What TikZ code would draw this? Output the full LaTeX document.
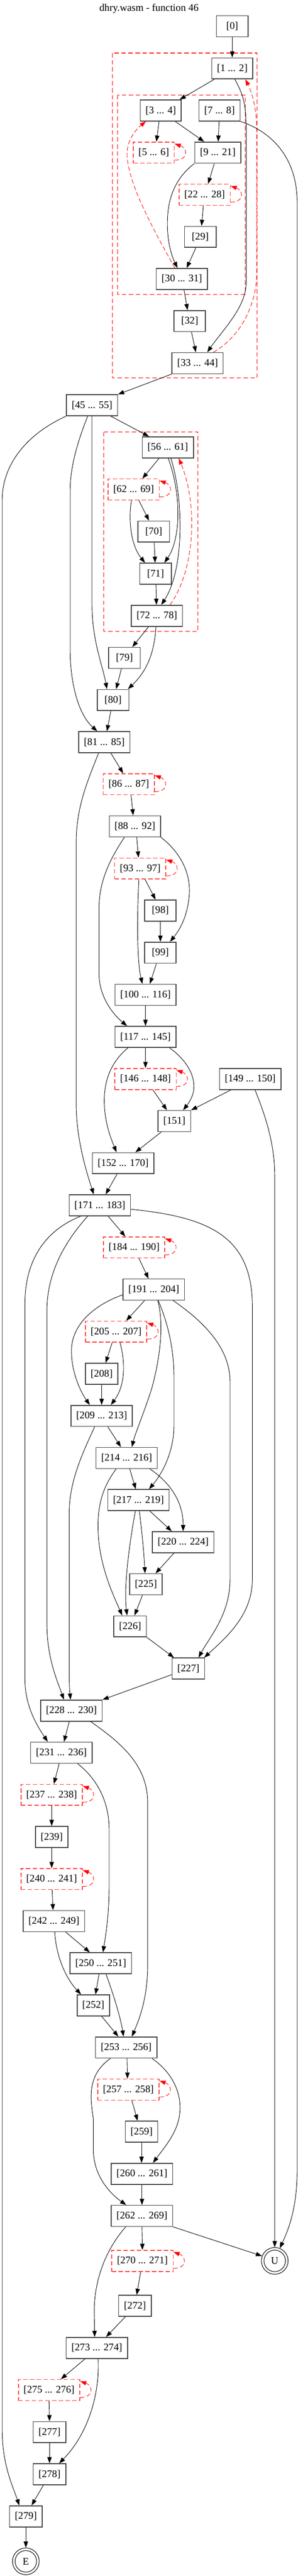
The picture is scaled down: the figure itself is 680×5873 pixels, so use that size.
\documentclass[tikz,border=0pt]{standalone}
\usepackage{fontspec}
\setmainfont{Liberation Serif}
\usetikzlibrary{arrows.meta}
\definecolor{boxgray}{RGB}{64,64,64}
\definecolor{lred}{RGB}{255,64,64}
\tikzset{
  blk/.style={rectangle, draw=boxgray, line width=1.4pt, minimum width=54pt, minimum height=36pt, inner xsep=9pt, inner ysep=0pt, font=\fontsize{17.4}{20}\selectfont},
  lpb/.style={blk, draw=lred, line width=1.3pt, dash pattern=on 7.5pt off 4pt},
  term/.style={circle, draw=black, line width=0.9pt, minimum size=45.75pt, inner sep=0pt, font=\fontsize{17.4}{20}\selectfont},
  clus/.style={draw=red, line width=1.05pt, dash pattern=on 7.5pt off 4.5pt},
  ed/.style={draw=black, line width=0.8pt, -{Triangle[length=10.5pt,width=7.5pt]}},
  be/.style={draw=red, line width=0.8pt, dash pattern=on 7.5pt off 4pt, -{Triangle[length=10.5pt,width=7.5pt]}},
}
\begin{document}
\begin{tikzpicture}[x=0.75pt,y=-0.75pt]
\fill[white] (0,0) rectangle (680,5873);
\path[use as bounding box] (0,0) rectangle (680,5873);
\node[font=\fontsize{17.4}{20}\selectfont] (title) at (340,20) {dhry.wasm - function 46};
% clusters
\draw[clus] (257,121) rectangle (587,862);
\draw[clus] (268,217) rectangle (560,671);
\draw[clus] (237,985) rectangle (452,1439);
% nodes
\node[blk] (n0) at (530,60) {[0]};
\node[blk] (n1) at (530,156) {[1 ... 2]};
\node[blk] (n3) at (367,252) {[3 ... 4]};
\node[blk] (n7) at (501,252) {[7 ... 8]};
\node[lpb] (n5) at (351,348) {[5 ... 6]};
\node[blk] (n9) at (497,348) {[9 ... 21]};
\node[lpb] (n22) at (467,444) {[22 ... 28]};
\node[blk] (n29) at (457,540) {[29]};
\node[blk] (n30) at (415,636) {[30 ... 31]};
\node[blk] (n32) at (433,732) {[32]};
\node[blk] (n33) at (451,828) {[33 ... 44]};
\node[blk] (n45) at (210,924) {[45 ... 55]};
\node[blk] (n56) at (383,1020) {[56 ... 61]};
\node[lpb] (n62) at (305,1116) {[62 ... 69]};
\node[blk] (n70) at (351,1212) {[70]};
\node[blk] (n71) at (355,1308) {[71]};
\node[blk] (n72) at (358,1404) {[72 ... 78]};
\node[blk] (n79) at (284,1500) {[79]};
\node[blk] (n80) at (258,1596) {[80]};
\node[blk] (n81) at (238,1692) {[81 ... 85]};
\node[lpb] (n86) at (294,1788) {[86 ... 87]};
\node[blk] (n88) at (308,1884) {[88 ... 92]};
\node[lpb] (n93) at (320,1980) {[93 ... 97]};
\node[blk] (n98) at (366,2076) {[98]};
\node[blk] (n99) at (366,2172) {[99]};
\node[blk] (n100) at (332,2268) {[100 ... 116]};
\node[blk] (n117) at (332,2364) {[117 ... 145]};
\node[lpb] (n146) at (332,2460) {[146 ... 148]};
\node[blk] (n149) at (571,2460) {[149 ... 150]};
\node[blk] (n151) at (398,2556) {[151]};
\node[blk] (n152) at (281,2652) {[152 ... 170]};
\node[blk] (n171) at (228,2748) {[171 ... 183]};
\node[lpb] (n184) at (306,2844) {[184 ... 190]};
\node[blk] (n191) at (351,2940) {[191 ... 204]};
\node[lpb] (n205) at (265,3036) {[205 ... 207]};
\node[blk] (n208) at (232,3132) {[208]};
\node[blk] (n209) at (232,3228) {[209 ... 213]};
\node[blk] (n214) at (289,3324) {[214 ... 216]};
\node[blk] (n217) at (316,3420) {[217 ... 219]};
\node[blk] (n220) at (418,3516) {[220 ... 224]};
\node[blk] (n225) at (333,3612) {[225]};
\node[blk] (n226) at (297,3708) {[226]};
\node[blk] (n227) at (430,3804) {[227]};
\node[blk] (n228) at (163,3900) {[228 ... 230]};
\node[blk] (n231) at (140,3996) {[231 ... 236]};
\node[lpb] (n237) at (118,4092) {[237 ... 238]};
\node[blk] (n239) at (118,4188) {[239]};
\node[lpb] (n240) at (118,4284) {[240 ... 241]};
\node[blk] (n242) at (123,4380) {[242 ... 249]};
\node[blk] (n250) at (230,4476) {[250 ... 251]};
\node[blk] (n252) at (213,4572) {[252]};
\node[blk] (n253) at (288,4668) {[253 ... 256]};
\node[lpb] (n257) at (293,4764) {[257 ... 258]};
\node[blk] (n259) at (323,4860) {[259]};
\node[blk] (n260) at (324,4956) {[260 ... 261]};
\node[blk] (n262) at (324,5052) {[262 ... 269]};
\node[lpb] (n270) at (325,5154.5) {[270 ... 271]};
\node[term] (U) at (627,5154.5) {U};
\draw[line width=0.9pt] (U.center) circle[radius=18.4pt];
\node[blk] (n272) at (308,5257) {[272]};
\node[blk] (n273) at (221,5353) {[273 ... 274]};
\node[lpb] (n275) at (112,5449) {[275 ... 276]};
\node[blk] (n277) at (113,5545) {[277]};
\node[blk] (n278) at (113,5641) {[278]};
\node[blk] (n279) at (59,5737) {[279]};
\node[term] (E) at (59,5839.5) {E};
\draw[line width=0.9pt] (E.center) circle[radius=18.4pt];
% self loops
\foreach \n in {n5,n22,n62,n86,n93,n146,n184,n205,n237,n240,n257,n270,n275}
  \draw[be] ([shift={(0,17)}]\n.east) .. controls ([shift={(32,17)}]\n.east) and ([shift={(30,-10)}]\n.east) .. ([shift={(0,-20)}]\n.east);
% edges
\draw[ed] (n0.south) -- (n1.north);
\draw[ed] ([shift={(-41,0)}]n1.south) -- ([shift={(43,0)}]n3.north);
\draw[ed] ([shift={(6,0)}]n1.south) .. controls (556,217) and (562,240) .. (562,300) -- (562,643) .. controls (562,700) and (510,750) .. ([shift={(22,0)}]n33.north);
\draw[be] ([shift={(36,0)}]n33.north) .. controls (545,770) and (586,700) .. (586,620) -- (586,300) .. controls (586,240) and (572,205) .. ([shift={(30,0)}]n1.south);
\draw[ed] ([shift={(-4,0)}]n3.south) -- ([shift={(6,0)}]n5.north);
\draw[ed] ([shift={(33,0)}]n3.south) -- ([shift={(-31,0)}]n9.north);
\draw[ed] ([shift={(-1,0)}]n7.south) -- ([shift={(1,0)}]n9.north);
\draw[ed] (n7.south east) .. controls (620,300) and (678,360) .. (678,460) -- (678,4950) .. controls (678,5040) and (655,5090) .. (U.68);
\draw[ed] ([shift={(-8,0)}]n9.south) -- ([shift={(8,0)}]n22.north);
\draw[ed] (n9.south west) .. controls (395,410) and (382,460) .. (382,510) .. controls (382,560) and (395,590) .. ([shift={(-10,0)}]n30.north);
\draw[be] ([shift={(-16,0)}]n30.north) .. controls (360,540) and (290,420) .. (290,350) .. controls (290,320) and (310,295) .. ([shift={(-34,0)}]n3.south);
\draw[ed] ([shift={(-3,0)}]n22.south) -- ([shift={(3,0)}]n29.north);
\draw[ed] ([shift={(-10,0)}]n29.south) -- ([shift={(11,0)}]n30.north);
\draw[ed] ([shift={(5,0)}]n30.south) -- ([shift={(-5,0)}]n32.north);
\draw[ed] ([shift={(4,0)}]n32.south) -- ([shift={(-4,0)}]n33.north);
\draw[ed] (n33.south west) -- (n45.north east);
\draw[ed] ([shift={(43,0)}]n45.south) -- ([shift={(-43,0)}]n56.north);
\draw[ed] (n45.south west) .. controls (60,990) and (5,1060) .. (5,1140) -- (5,5540) .. controls (5,5620) and (30,5670) .. ([shift={(-15,0)}]n279.north);
\draw[ed] ([shift={(-10,0)}]n45.south) .. controls (180,1000) and (160,1060) .. (160,1120) -- (160,1480) .. controls (160,1560) and (180,1630) .. ([shift={(-16,0)}]n81.north);
\draw[ed] (n45.south) -- (210,1380) .. controls (210,1460) and (235,1520) .. ([shift={(-14,0)}]n80.north);
\draw[ed] ([shift={(-20,0)}]n56.south) -- ([shift={(20,0)}]n62.north);
\draw[ed] ([shift={(1,0)}]n56.south) .. controls (415,1130) and (412,1230) .. ([shift={(20,0)}]n71.north);
\draw[ed] ([shift={(7,0)}]n56.south) .. controls (420,1140) and (420,1300) .. ([shift={(10,0)}]n72.north);
\draw[be] ([shift={(30,0)}]n72.north) .. controls (445,1300) and (452,1150) .. ([shift={(25,0)}]n56.south);
\draw[ed] ([shift={(12,0)}]n62.south) -- ([shift={(-11,0)}]n70.north);
\draw[ed] ([shift={(-5,0)}]n62.south) .. controls (292,1190) and (300,1245) .. ([shift={(-24,0)}]n71.north);
\draw[ed] ([shift={(1,0)}]n70.south) -- ([shift={(-1,0)}]n71.north);
\draw[ed] ([shift={(1,0)}]n71.south) -- ([shift={(-1,0)}]n72.north);
\draw[ed] ([shift={(-19,0)}]n72.south) -- ([shift={(18,0)}]n79.north);
\draw[ed] ([shift={(-2,0)}]n72.south) .. controls (352,1490) and (335,1530) .. ([shift={(34,0)}]n80.north);
\draw[ed] ([shift={(-7,0)}]n79.south) -- ([shift={(7,0)}]n80.north);
\draw[ed] ([shift={(-5,0)}]n80.south) -- ([shift={(6,0)}]n81.north);
\draw[ed] ([shift={(15,0)}]n81.south) -- ([shift={(-13,0)}]n86.north);
\draw[ed] ([shift={(-13,0)}]n81.south) .. controls (200,1780) and (174,1840) .. (174,1920) -- (174,2520) .. controls (174,2600) and (200,2680) .. ([shift={(-14,0)}]n171.north);
\draw[ed] ([shift={(5,0)}]n86.south) -- ([shift={(-4,0)}]n88.north);
\draw[ed] ([shift={(4,0)}]n88.south) -- ([shift={(-4,0)}]n93.north);
\draw[ed] ([shift={(-24,0)}]n88.south) .. controls (250,1960) and (226,2010) .. (226,2070) -- (226,2220) .. controls (226,2270) and (255,2310) .. ([shift={(-42,0)}]n117.north);
\draw[ed] (n88.south east) .. controls (420,1950) and (435,2000) .. (432,2040) .. controls (428,2090) and (410,2120) .. ([shift={(22,0)}]n99.north);
\draw[ed] ([shift={(11,0)}]n93.south) -- ([shift={(-11,0)}]n98.north);
\draw[ed] ([shift={(-3,0)}]n93.south) .. controls (313,2080) and (312,2190) .. ([shift={(-7,0)}]n100.north);
\draw[ed] (n98.south) -- (n99.north);
\draw[ed] ([shift={(-9,0)}]n99.south) -- ([shift={(10,0)}]n100.north);
\draw[ed] (n100.south) -- (n117.north);
\draw[ed] (n117.south) -- (n146.north);
\draw[ed] ([shift={(-40,0)}]n117.south) .. controls (255,2420) and (238,2460) .. (238,2510) .. controls (238,2560) and (255,2600) .. ([shift={(-15,0)}]n152.north);
\draw[ed] ([shift={(55,0)}]n117.south) .. controls (430,2420) and (450,2460) .. (440,2495) .. controls (435,2510) and (425,2522) .. ([shift={(20,0)}]n151.north);
\draw[ed] ([shift={(17,0)}]n146.south) -- ([shift={(-17,0)}]n151.north);
\draw[ed] ([shift={(-44,0)}]n149.south) -- (n151.north east);
\draw[ed] ([shift={(11,0)}]n149.south) .. controls (600,2530) and (627,2600) .. (627,2680) -- (U.north);
\draw[ed] ([shift={(-30,0)}]n151.south) -- ([shift={(28,0)}]n152.north);
\draw[ed] ([shift={(-14,0)}]n152.south) -- ([shift={(13,0)}]n171.north);
\draw[ed] ([shift={(19,0)}]n171.south) -- ([shift={(-20,0)}]n184.north);
\draw[ed] ([shift={(-44,0)}]n171.south) .. controls (90,2810) and (57,2890) .. (57,2970) -- (57,3830) .. controls (57,3890) and (85,3935) .. ([shift={(-31,0)}]n231.north);
\draw[ed] ([shift={(-28,0)}]n171.south) .. controls (140,2840) and (107,2910) .. (107,2990) -- (107,3700) .. controls (107,3780) and (130,3830) .. ([shift={(-17,0)}]n228.north);
\draw[ed] ([shift={(0,9)}]n171.east) .. controls (480,2775) and (576,2820) .. (576,2980) -- (576,3600) .. controls (576,3680) and (520,3730) .. ([shift={(36,0)}]n227.north);
\draw[ed] ([shift={(11,0)}]n184.south) -- ([shift={(-12,0)}]n191.north);
\draw[ed] ([shift={(0,12)}]n191.west) .. controls (215,2975) and (163,3020) .. (163,3080) .. controls (163,3130) and (185,3175) .. ([shift={(-27,0)}]n209.north);
\draw[ed] ([shift={(-21,0)}]n191.south) -- ([shift={(23,0)}]n205.north);
\draw[ed] ([shift={(9,0)}]n191.south) .. controls (375,3020) and (365,3100) .. (345,3170) .. controls (325,3230) and (308,3270) .. ([shift={(12,0)}]n214.north);
\draw[ed] ([shift={(10,0)}]n191.south) .. controls (385,3020) and (397,3080) .. (397,3140) -- (397,3250) .. controls (397,3310) and (370,3360) .. ([shift={(24,0)}]n217.north);
\draw[ed] ([shift={(44,0)}]n191.south) .. controls (460,3010) and (525,3070) .. (525,3150) -- (525,3600) .. controls (525,3680) and (480,3730) .. ([shift={(23,0)}]n227.north);
\draw[ed] ([shift={(-9,0)}]n205.south) -- ([shift={(9,0)}]n208.north);
\draw[ed] ([shift={(9,0)}]n205.south) .. controls (287,3110) and (285,3160) .. ([shift={(21,0)}]n209.north);
\draw[ed] (n208.south) -- (n209.north);
\draw[ed] ([shift={(14,0)}]n209.south) -- ([shift={(-13,0)}]n214.north);
\draw[ed] ([shift={(-16,0)}]n209.south) .. controls (185,3320) and (158,3380) .. (158,3450) -- (158,3820) .. controls (158,3850) and (160,3865) .. ([shift={(-2,0)}]n228.north);
\draw[ed] ([shift={(7,0)}]n214.south) -- ([shift={(-6,0)}]n217.north);
\draw[ed] ([shift={(53,0)}]n214.south) .. controls (395,3385) and (418,3430) .. (n220.north);
\draw[ed] ([shift={(-24,0)}]n214.south) .. controls (235,3390) and (222,3430) .. (224,3490) .. controls (226,3570) and (260,3640) .. ([shift={(-18,0)}]n226.north);
\draw[ed] ([shift={(26,0)}]n217.south) -- ([shift={(-26,0)}]n220.north);
\draw[ed] ([shift={(-7,0)}]n217.south) .. controls (295,3520) and (282,3620) .. ([shift={(-7,0)}]n226.north);
\draw[ed] ([shift={(2,0)}]n217.south) .. controls (325,3500) and (329,3550) .. ([shift={(-2,0)}]n225.north);
\draw[ed] ([shift={(-21,0)}]n220.south) -- ([shift={(22,0)}]n225.north);
\draw[ed] ([shift={(-8,0)}]n225.south) -- ([shift={(10,0)}]n226.north);
\draw[ed] (n226.south east) -- ([shift={(-33,0)}]n227.north);
\draw[ed] ([shift={(0,14)}]n227.west) -- (n228.north east);
\draw[ed] ([shift={(-5,0)}]n228.south) -- ([shift={(6,0)}]n231.north);
\draw[ed] ([shift={(44,0)}]n228.south) .. controls (270,3970) and (337,4020) .. (337,4110) -- (337,4480) .. controls (337,4560) and (315,4610) .. ([shift={(13,0)}]n253.north);
\draw[ed] ([shift={(-5,0)}]n231.south) -- ([shift={(5,0)}]n237.north);
\draw[ed] ([shift={(37,0)}]n231.south) .. controls (215,4050) and (249,4100) .. (249,4170) -- (249,4300) .. controls (249,4370) and (240,4420) .. ([shift={(5,0)}]n250.north);
\draw[ed] (n237.south) -- (n239.north);
\draw[ed] (n239.south) -- (n240.north);
\draw[ed] ([shift={(1,0)}]n240.south) -- ([shift={(-2,0)}]n242.north);
\draw[ed] ([shift={(27,0)}]n242.south) -- ([shift={(-25,0)}]n250.north);
\draw[ed] ([shift={(2,0)}]n242.south) .. controls (128,4460) and (150,4510) .. ([shift={(-28,0)}]n252.north);
\draw[ed] ([shift={(-4,0)}]n250.south) -- ([shift={(5,0)}]n252.north);
\draw[ed] ([shift={(12,0)}]n250.south) .. controls (260,4550) and (275,4600) .. ([shift={(-6,0)}]n253.north);
\draw[ed] ([shift={(19,0)}]n252.south) -- ([shift={(-18,0)}]n253.north);
\draw[ed] ([shift={(2,0)}]n253.south) -- ([shift={(-2,0)}]n257.north);
\draw[ed] ([shift={(-36,0)}]n253.south) .. controls (200,4730) and (205,4780) .. (213,4830) -- (213,4900) .. controls (213,4960) and (250,5000) .. ([shift={(-36,0)}]n262.north);
\draw[ed] ([shift={(59,0)}]n253.south) .. controls (400,4730) and (415,4780) .. (410,4820) .. controls (405,4860) and (380,4890) .. ([shift={(25,0)}]n260.north);
\draw[ed] ([shift={(8,0)}]n257.south) -- ([shift={(-9,0)}]n259.north);
\draw[ed] (n259.south) -- ([shift={(-1,0)}]n260.north);
\draw[ed] (n260.south) -- (n262.north);
\draw[ed] (n262.south) -- (n270.north);
\draw[ed] (n262.south east) -- (U.159);
\draw[ed] ([shift={(-37,0)}]n262.south) .. controls (240,5130) and (215,5200) .. (215,5270) -- ([shift={(-5,0)}]n273.north);
\draw[ed] ([shift={(-4,0)}]n270.south) -- ([shift={(4,0)}]n272.north);
\draw[ed] ([shift={(-22,0)}]n272.south) -- ([shift={(21,0)}]n273.north);
\draw[ed] ([shift={(-27,0)}]n273.south) -- ([shift={(27,0)}]n275.north);
\draw[ed] ([shift={(3,0)}]n273.south) .. controls (228,5460) and (200,5550) .. ([shift={(22,0)}]n278.north);
\draw[ed] (n275.south) -- (n277.north);
\draw[ed] (n277.south) -- (n278.north);
\draw[ed] ([shift={(-14,0)}]n278.south) -- ([shift={(13,0)}]n279.north);
\draw[ed] (n279.south) -- (E.north);
\end{tikzpicture}
\end{document}
